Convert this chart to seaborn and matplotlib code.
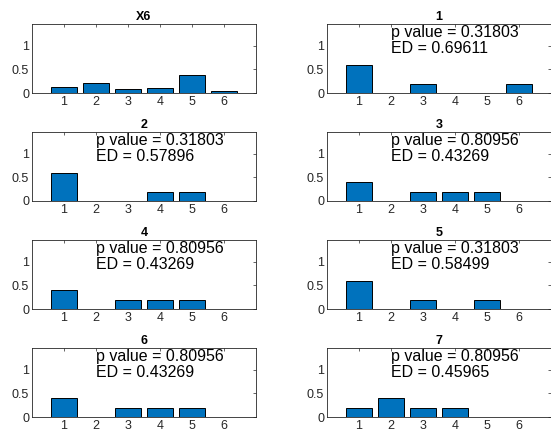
import matplotlib
matplotlib.use("Agg")
import matplotlib.pyplot as plt
import seaborn as sns
import pandas as pd

categories = ["1", "2", "3", "4", "5", "6"]
titles = ["X6", "1", "2", "3", "4", "5", "6", "7"]
values_X6 = [0.12, 0.22, 0.09, 0.10, 0.39, 0.04]
values_1 = [0.6, 0.0, 0.2, 0.0, 0.0, 0.2]
values_2 = [0.6, 0.0, 0.0, 0.2, 0.2, 0.0]
values_3 = [0.4, 0.0, 0.2, 0.2, 0.2, 0.0]
values_4 = [0.4, 0.0, 0.2, 0.2, 0.2, 0.0]
values_5 = [0.6, 0.0, 0.2, 0.0, 0.2, 0.0]
values_6 = [0.4, 0.0, 0.2, 0.2, 0.2, 0.0]
values_7 = [0.2, 0.4, 0.2, 0.2, 0.0, 0.0]
p_values = [None, "0.31803", "0.31803", "0.80956", "0.80956", "0.31803", "0.80956", "0.80956"]
ed_values = [None, "0.69611", "0.57896", "0.43269", "0.43269", "0.58499", "0.43269", "0.45965"]
yticks = [0, 0.5, 1]
ytick_labels = ["0", "0.5", "1"]

all_values = [values_X6, values_1, values_2, values_3, values_4, values_5, values_6, values_7]

sns.set_style("white")
plt.rcParams["font.family"] = ["Liberation Sans", "DejaVu Sans"]

W, H = 551, 434
fig = plt.figure(figsize=(W / 100, H / 100), dpi=100)

axcol = "#262626"
for i, (title, vals) in enumerate(zip(titles, all_values)):
    row, col = divmod(i, 2)
    left_px = 32 if col == 0 else 327
    bottom_px = 93 + 108 * row
    ax = fig.add_axes([left_px / W, 1 - bottom_px / H, 224 / W, 69 / H])
    df = pd.DataFrame({"cat": categories, "val": vals})
    sns.barplot(data=df, x="cat", y="val", ax=ax, color="#0072BD", saturation=1,
                edgecolor="black", linewidth=0.7, width=0.8, errorbar=None)
    ax.set_xlim(-1, 6)
    ax.set_ylim(0, 1.46)
    ax.set_yticks(yticks)
    ax.set_yticklabels(ytick_labels)
    ax.set_xlabel("")
    ax.set_ylabel("")
    ax.set_title(title, fontsize=9, fontweight="bold", pad=3, color="black")
    ax.tick_params(direction="in", top=True, right=True, length=2.5, width=0.5,
                   labelsize=9, colors=axcol, pad=2)
    for s in ax.spines.values():
        s.set_visible(True)
        s.set_color(axcol)
        s.set_linewidth(0.6)
    if p_values[i] is not None:
        ax.text(1, 1.11, f"p value = {p_values[i]}\nED = {ed_values[i]}",
                fontsize=11.5, va="center", ha="left", color="black",
                linespacing=1.1)

fig.savefig("out.png", dpi=100, facecolor="white")
